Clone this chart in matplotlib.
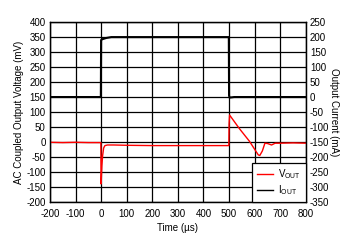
import matplotlib
matplotlib.use('Agg')
import matplotlib.pyplot as plt
from matplotlib.lines import Line2D

plt.rcParams['font.family'] = ['Liberation Sans', 'DejaVu Sans']
plt.rcParams['font.size'] = 7
plt.rcParams['axes.unicode_minus'] = False

# V_OUT (AC coupled, mV) vs time (us)
vout_t = [-200, -150, -100, -50, -1, 0, 1, 3, 6, 10, 15, 25, 50, 100, 200, 300, 400, 499,
          500, 502, 540, 580, 614, 620, 630, 640, 650, 666, 680, 700, 750, 800]
vout_mv = [-1, -2, -1, -2, -2, -140, -120, -80, -45, -20, -12, -10, -10, -11, -12, -12, -12, -12,
           60, 90, 45, 2, -43, -45, -30, -4, -5, -10, -4, -4, -3, -4]

# I_OUT (mA) vs time (us)
iout_t = [-200, -100, -1, 0, 5, 20, 40, 100, 300, 499, 500, 502, 520, 800]
iout_ma = [0, 0, 0, 190, 193, 197, 200, 200, 200, 200, 5, -2, 0, 0]

xticks = list(range(-200, 801, 100))
vticks = list(range(-200, 401, 50))
iticks = list(range(-350, 251, 50))

fig = plt.figure(figsize=(3.54, 2.43), dpi=100)
ax = fig.add_axes([0.141, 0.169, 0.723, 0.740])
ax2 = ax.twinx()

ax.plot(vout_t, vout_mv, color='#ff0000', lw=1.0, zorder=3)
ax2.plot(iout_t, iout_ma, color='black', lw=1.5, zorder=3)

ax.set_xlim(-200, 800)
ax.set_ylim(-200, 400)
ax2.set_ylim(-350, 250)
ax.set_xticks(xticks)
ax.set_yticks(vticks)
ax2.set_yticks(iticks)

ax.grid(True, color='black', lw=0.9)
ax.set_axisbelow(True)
for a in (ax, ax2):
    a.tick_params(length=0, pad=3, labelsize=7)
    for s in a.spines.values():
        s.set_color('black')
        s.set_linewidth(0.9)
ax.tick_params(axis='x', pad=5)

ax.set_xlabel('Time (µs)', fontsize=7, labelpad=3)
ax.set_ylabel('AC Coupled Output Voltage (mV)', fontsize=7, labelpad=2)
ax2.set_ylabel('Output Current (mA)', fontsize=7, rotation=270, labelpad=7)

handles = [Line2D([], [], color='#ff0000', lw=1.0), Line2D([], [], color='black', lw=1.0)]
labels = [r'V$_{\mathregular{OUT}}$', r'I$_{\mathregular{OUT}}$']
leg = ax2.legend(handles, labels, loc='lower right', borderaxespad=0, fancybox=False,
                 framealpha=1, edgecolor='black', fontsize=7, handlelength=1.7,
                 handletextpad=0.5, borderpad=0.5, labelspacing=0.2)
leg.get_frame().set_linewidth(0.9)
leg.set_zorder(5)

fig.savefig('out.png', dpi=100)
